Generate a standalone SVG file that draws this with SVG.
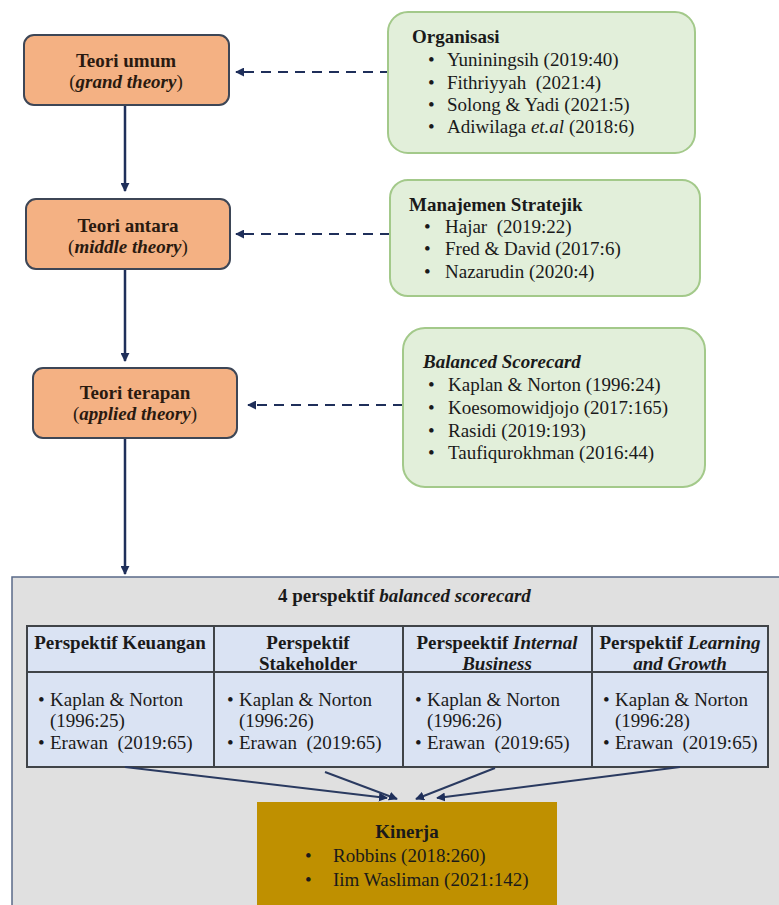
<svg xmlns="http://www.w3.org/2000/svg" width="779" height="905" viewBox="0 0 779 905">
<style>
text{font-family:"Liberation Serif","Times New Roman",serif;font-size:19px;fill:#1a1a1a}
.b{font-weight:bold}
.i{font-style:italic}
.c{text-anchor:middle}
.orange{fill:#f4b183;stroke:#3d4656;stroke-width:2}
.orange-t{fill:#2a1a10}
.green{fill:#e2efda;stroke:#a3c98a;stroke-width:2}
.solid{stroke:#1f2f5a;stroke-width:2.5;fill:none}
.dash{stroke:#1f2f5a;stroke-width:2.2;fill:none;stroke-dasharray:10 7}
.thin{stroke:#2a3a60;stroke-width:2;fill:none}
.grid{stroke:#404448;stroke-width:2;fill:none}
</style>
<defs>
<marker id="ah" viewBox="0 0 10 10" refX="9" refY="5" markerWidth="9" markerHeight="9" markerUnits="userSpaceOnUse" orient="auto">
<path d="M0,0 L10,5 L0,10 z" fill="#1f2f5a"/>
</marker>
</defs>
<rect width="779" height="905" fill="#ffffff"/>

<g id="connectors">
<line class="solid" x1="125" y1="105" x2="125" y2="191" marker-end="url(#ah)"/>
<line class="solid" x1="125" y1="269" x2="125" y2="361" marker-end="url(#ah)"/>
<line class="solid" x1="125" y1="438" x2="125" y2="574" marker-end="url(#ah)"/>
<line class="dash" x1="390" y1="72" x2="236" y2="72" marker-end="url(#ah)"/>
<line class="dash" x1="390" y1="234" x2="236" y2="234" marker-end="url(#ah)"/>
<line class="dash" x1="403" y1="405" x2="248" y2="405" marker-end="url(#ah)"/>
</g>

<g id="teori-umum">
<rect class="orange" x="24" y="35" width="205" height="70" rx="10"/>
<text class="b c orange-t" x="126" y="67">Teori umum</text>
<text class="c orange-t" x="126" y="88">(<tspan class="i b">grand theory</tspan>)</text>
</g>
<g id="teori-antara">
<rect class="orange" x="26" y="199" width="204" height="70" rx="10"/>
<text class="b c orange-t" x="128" y="232">Teori antara</text>
<text class="c orange-t" x="128" y="253">(<tspan class="i b">middle theory</tspan>)</text>
</g>
<g id="teori-terapan">
<rect class="orange" x="33" y="368" width="204" height="70" rx="10"/>
<text class="b c orange-t" x="135" y="399">Teori terapan</text>
<text class="c orange-t" x="135" y="420">(<tspan class="i b">applied theory</tspan>)</text>
</g>

<g id="organisasi">
<rect class="green" x="388" y="12" width="307" height="141" rx="20"/>
<text class="b" x="412" y="43">Organisasi</text>
<text x="428" y="66">•</text><text x="447" y="66">Yuniningsih (2019:40)</text>
<text x="428" y="89">•</text><text x="447" y="89">Fithriyyah&#160; (2021:4)</text>
<text x="428" y="111">•</text><text x="447" y="111">Solong &amp; Yadi (2021:5)</text>
<text x="428" y="133">•</text><text x="447" y="133">Adiwilaga <tspan class="i">et.al</tspan> (2018:6)</text>
</g>
<g id="manajemen-stratejik">
<rect class="green" x="390" y="180" width="310" height="116" rx="18"/>
<text class="b" x="409" y="211">Manajemen Stratejik</text>
<text x="424" y="233">•</text><text x="445" y="233">Hajar&#160; (2019:22)</text>
<text x="424" y="255">•</text><text x="445" y="255">Fred &amp; David (2017:6)</text>
<text x="424" y="278">•</text><text x="445" y="278">Nazarudin (2020:4)</text>
</g>
<g id="balanced-scorecard">
<rect class="green" x="403" y="328" width="302" height="159" rx="22"/>
<text class="b i" x="423" y="368">Balanced Scorecard</text>
<text x="428" y="391">•</text><text x="448" y="391">Kaplan &amp; Norton (1996:24)</text>
<text x="428" y="414">•</text><text x="448" y="414">Koesomowidjojo (2017:165)</text>
<text x="428" y="437">•</text><text x="448" y="437">Rasidi (2019:193)</text>
<text x="428" y="459">•</text><text x="448" y="459">Taufiqurokhman (2016:44)</text>
</g>

<g id="perspektif-bsc">
<rect x="12" y="577" width="780" height="340" fill="#e0e0e0" stroke="#5a6a88" stroke-width="1.5"/>
<text class="b" x="278" y="602">4 perspektif <tspan class="i">balanced scorecard</tspan></text>
<rect x="27" y="626" width="741" height="141" fill="#dae3f3"/>
<rect class="grid" x="27" y="626" width="741" height="141"/>
<line class="grid" x1="27" y1="672" x2="768" y2="672"/>
<line class="grid" x1="214" y1="626" x2="214" y2="767"/>
<line class="grid" x1="403" y1="626" x2="403" y2="767"/>
<line class="grid" x1="592" y1="626" x2="592" y2="767"/>
</g>

<g id="perspektif-keuangan">
<text class="b c" x="120" y="649">Perspektif Keuangan</text>
<text x="38" y="706">•</text><text x="50" y="706">Kaplan &amp; Norton</text>
<text x="50" y="727">(1996:25)</text>
<text x="38" y="749">•</text><text x="50" y="749">Erawan&#160; (2019:65)</text>
</g>
<g id="perspektif-stakeholder">
<text class="b c" x="308" y="649">Perspektif</text>
<text class="b c" x="308" y="670">Stakeholder</text>
<text x="227" y="706">•</text><text x="239" y="706">Kaplan &amp; Norton</text>
<text x="239" y="727">(1996:26)</text>
<text x="227" y="749">•</text><text x="239" y="749">Erawan&#160; (2019:65)</text>
</g>
<g id="perspektif-internal">
<text class="b c" x="497" y="649">Perspeektif <tspan class="i">Internal</tspan></text>
<text class="b i c" x="497" y="670">Business</text>
<text x="415" y="706">•</text><text x="427" y="706">Kaplan &amp; Norton</text>
<text x="427" y="727">(1996:26)</text>
<text x="415" y="749">•</text><text x="427" y="749">Erawan&#160; (2019:65)</text>
</g>
<g id="perspektif-learning">
<text class="b c" x="680" y="649">Perspektif <tspan class="i">Learning</tspan></text>
<text class="b i c" x="680" y="670">and Growth</text>
<text x="603" y="706">•</text><text x="615" y="706">Kaplan &amp; Norton</text>
<text x="615" y="727">(1996:28)</text>
<text x="603" y="749">•</text><text x="615" y="749">Erawan&#160; (2019:65)</text>
</g>

<g id="kinerja">
<rect x="257" y="802" width="300" height="120" fill="#bf9000"/>
<text class="b c" x="407" y="838" fill="#1a1200">Kinerja</text>
<text x="305" y="862">•</text><text x="333" y="862">Robbins (2018:260)</text>
<text x="305" y="886">•</text><text x="333" y="886">Iim Wasliman (2021:142)</text>
</g>

<g id="connectors-kinerja">
<line class="thin" x1="125" y1="767" x2="387" y2="798" marker-end="url(#ah)"/>
<line class="thin" x1="325" y1="772" x2="397" y2="799" marker-end="url(#ah)"/>
<line class="thin" x1="495" y1="768" x2="416" y2="799" marker-end="url(#ah)"/>
<line class="thin" x1="680" y1="767" x2="437" y2="798" marker-end="url(#ah)"/>
</g>
</svg>
